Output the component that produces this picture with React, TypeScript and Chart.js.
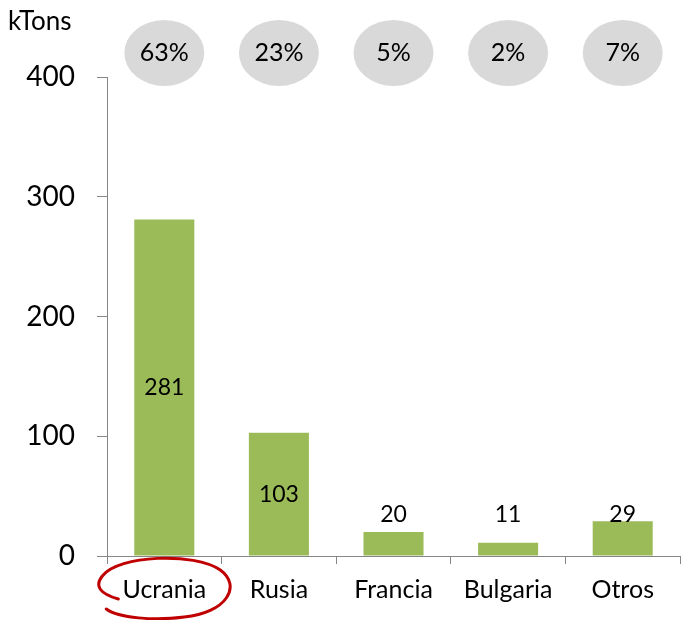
import { useEffect, useRef } from 'react';
import { Chart, registerables } from 'chart.js';

Chart.register(...registerables);

const categories = ['Ucrania', 'Rusia', 'Francia', 'Bulgaria', 'Otros'];
const volumes = [281, 103, 20, 11, 29];
const shares = ['63%', '23%', '5%', '2%', '7%'];
const yTickValues = [0, 100, 200, 300, 400];
const unitLabel = 'kTons';
const highlighted = 'Ucrania';

const FONT = 'Lato, Carlito, Calibri, "Open Sans", sans-serif';

const overlayPlugin = {
  id: 'overlay',
  afterDraw(chart: any) {
    const ctx = chart.ctx as CanvasRenderingContext2D;
    const area = chart.chartArea;
    const xs = chart.scales.x;
    const ys = chart.scales.y;
    const meta = chart.getDatasetMeta(0);
    ctx.save();

    // unit label
    ctx.fillStyle = '#000';
    ctx.font = `26px ${FONT}`;
    ctx.textAlign = 'left';
    ctx.textBaseline = 'middle';
    ctx.fillText(unitLabel, 8, 22);

    // share ellipses
    categories.forEach((c, i) => {
      const cx = xs.getPixelForValue(i);
      const cy = area.top - 24;
      ctx.beginPath();
      ctx.ellipse(cx, cy, 40, 33, 0, 0, Math.PI * 2);
      ctx.fillStyle = '#D9D9D9';
      ctx.fill();
      ctx.fillStyle = '#000';
      ctx.font = `25px ${FONT}`;
      ctx.textAlign = 'center';
      ctx.textBaseline = 'middle';
      ctx.fillText(shares[i], cx, cy);
    });

    // value labels
    ctx.font = `23px ${FONT}`;
    ctx.fillStyle = '#000';
    ctx.textAlign = 'center';
    ctx.textBaseline = 'middle';
    meta.data.forEach((bar: any, i: number) => {
      const v = volumes[i];
      let y;
      if (v > 60) {
        y = (bar.y + bar.base) / 2;
      } else {
        y = ys.getPixelForValue(35);
      }
      ctx.fillText(String(v), bar.x, y);
    });

    // hand-drawn red loop around highlighted category label
    const hi = categories.indexOf(highlighted);
    if (hi >= 0) {
      const cx = xs.getPixelForValue(hi);
      const cy = area.bottom + 33;
      ctx.strokeStyle = '#C00000';
      ctx.lineWidth = 3;
      ctx.lineCap = 'round';
      ctx.beginPath();
      ctx.moveTo(cx - 46, cy + 10);
      ctx.quadraticCurveTo(cx - 74, cy + 2, cx - 62, cy - 13);
      ctx.bezierCurveTo(cx - 46, cy - 34, cx + 30, cy - 37, cx + 56, cy - 19);
      ctx.bezierCurveTo(cx + 78, cy - 3, cx + 62, cy + 24, cx + 20, cy + 28);
      ctx.bezierCurveTo(cx - 10, cy + 32, cx - 46, cy + 29, cx - 58, cy + 20);
      ctx.stroke();
    }
    ctx.restore();
  },
};

export default function App() {
  const ref = useRef<HTMLCanvasElement>(null);
  useEffect(() => {
    if (!ref.current) return;
    const chart = new Chart(ref.current, {
      type: 'bar',
      data: {
        labels: categories,
        datasets: [
          {
            data: volumes,
            backgroundColor: '#9BBB59',
            barPercentage: 0.524,
            categoryPercentage: 1,
          },
        ],
      },
      options: {
        animation: false,
        responsive: true,
        maintainAspectRatio: false,
        layout: { padding: { top: 77, right: 2, left: 0, bottom: 0 } },
        plugins: { legend: { display: false }, tooltip: { enabled: false } },
        scales: {
          x: {
            offset: true,
            grid: { drawOnChartArea: false, drawTicks: true, tickLength: 8, offset: true, color: '#868686' },
            border: { display: true, color: '#868686', width: 1 },
            ticks: { color: '#000', font: { family: FONT, size: 25 }, padding: 11 },
            afterFit(scale: any) {
              scale.height = 64;
            },
          },
          y: {
            min: 0,
            max: 400,
            afterBuildTicks(scale: any) {
              scale.ticks = yTickValues.map((v) => ({ value: v }));
            },
            grid: { drawOnChartArea: false, drawTicks: true, tickLength: 10, color: '#868686' },
            border: { display: true, color: '#868686', width: 1 },
            ticks: { color: '#000', font: { family: FONT, size: 28 }, padding: 22 },
            afterFit(scale: any) {
              scale.width = 107;
            },
          },
        },
      },
      plugins: [overlayPlugin],
    });
    return () => chart.destroy();
  }, []);
  return (
    <div style={{ position: 'absolute', left: 0, top: 0, width: 682, height: 620 }}>
      <canvas ref={ref} />
    </div>
  );
}
